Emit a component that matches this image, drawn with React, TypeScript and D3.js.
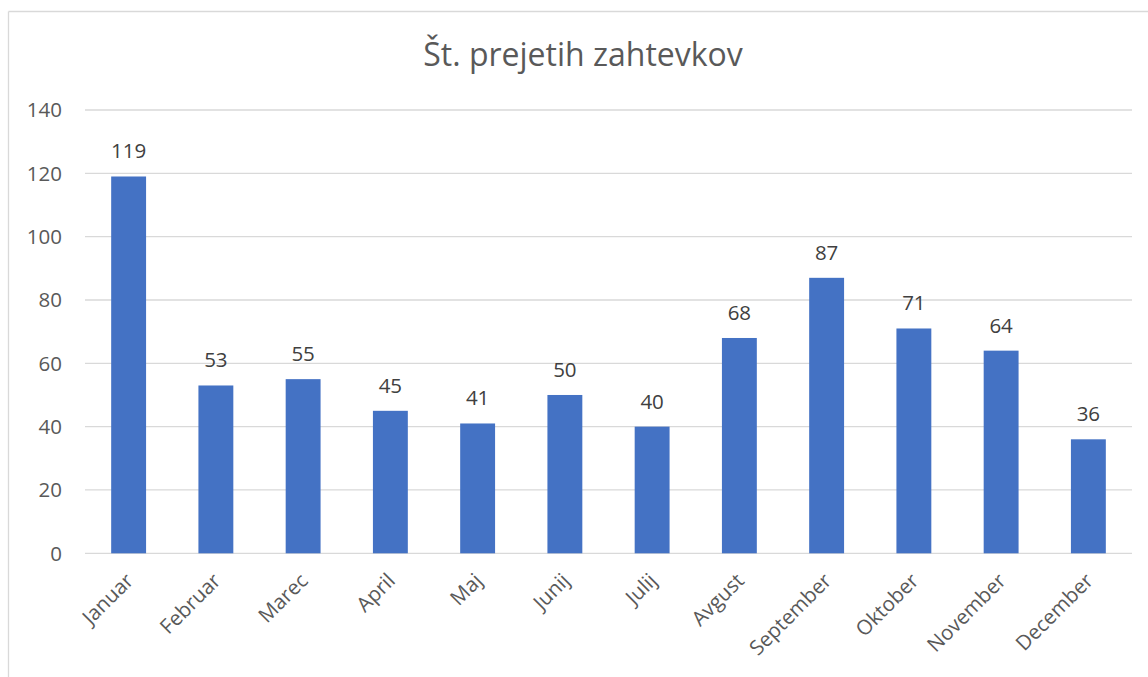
import React from "react";
import * as d3 from "d3";

const title = "Št. prejetih zahtevkov";
const months = ["Januar", "Februar", "Marec", "April", "Maj", "Junij", "Julij", "Avgust", "September", "Oktober", "November", "December"];
const values = [119, 53, 55, 45, 41, 50, 40, 68, 87, 71, 64, 36];
const yTicks = [0, 20, 40, 60, 80, 100, 120, 140];

const W = 1148;
const H = 677;
const FONT = "'Open Sans', 'Noto Sans', sans-serif";

export default function App() {
  const x = d3.scaleBand<string>().domain(months).range([85, 1132]).paddingInner(0.6).paddingOuter(0.3);
  const y = d3.scaleLinear().domain([0, 140]).range([553.3, 110]);
  const bw = x.bandwidth();
  return (
    <svg width={W} height={H} style={{ position: "absolute", left: 0, top: 0, display: "block" }} fontFamily={FONT}>
      <rect x={0} y={0} width={W} height={H} fill="#fff" />
      <line x1={8.5} y1={11.5} x2={W} y2={11.5} stroke="#d9d9d9" strokeWidth={1.3} />
      <line x1={8.5} y1={11.5} x2={8.5} y2={H} stroke="#d9d9d9" strokeWidth={1.3} />
      <text x={583} y={66} textAnchor="middle" fontSize={32} fill="#595959">{title}</text>
      {yTicks.map((t) => (
        <g key={t}>
          <line x1={85} x2={1132} y1={y(t)} y2={y(t)} stroke="#d9d9d9" strokeWidth={1.3} />
          <text x={62} y={y(t)} dy="0.36em" textAnchor="end" fontSize={20.5} fill="#595959">{t}</text>
        </g>
      ))}
      {months.map((m, i) => {
        const cx = (x(m) as number) + bw / 2;
        return (
          <g key={m}>
            <rect x={x(m)} y={y(values[i])} width={bw} height={y(0) - y(values[i])} fill="#4472c4" />
            <text x={cx} y={y(values[i]) - 18} textAnchor="middle" fontSize={20.5} fill="#404040">{values[i]}</text>
            <text transform={`translate(${cx + 6},${582}) rotate(-45)`} textAnchor="end" fontSize={20.5} fill="#595959">{m}</text>
          </g>
        );
      })}
    </svg>
  );
}
